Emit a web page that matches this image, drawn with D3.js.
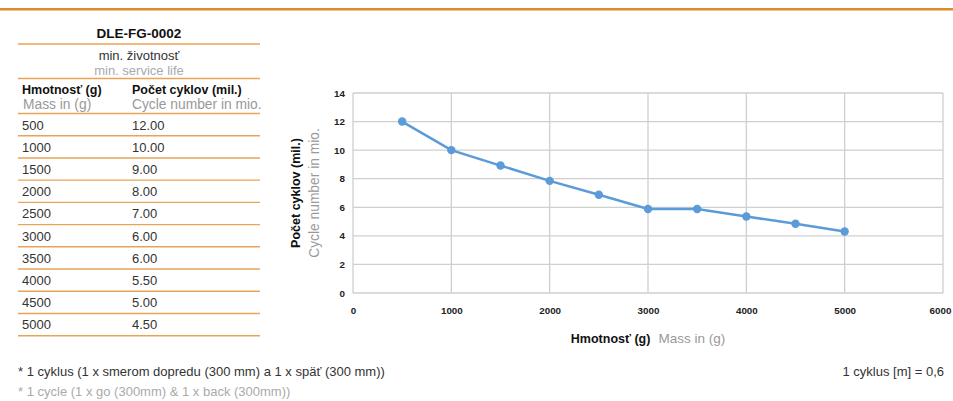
<!DOCTYPE html>
<html>
<head>
<meta charset="utf-8">
<script src="https://cdn.jsdelivr.net/npm/d3@7"></script>
<style>
  body { margin: 0; background: #fff; }
  svg { display: block; font-family: "Liberation Sans", Arial, sans-serif; }
  .axis path, .axis line { display: none; }
  .axis text { font-size: 9.8px; font-weight: bold; fill: #222; font-family: "Liberation Sans", Arial, sans-serif; }
</style>
</head>
<body>
<div id="chart"></div>
<script>
// table data (as printed)
var masses = [500, 1000, 1500, 2000, 2500, 3000, 3500, 4000, 4500, 5000];
var cycleLabels = ['12.00', '10.00', '9.00', '8.00', '7.00', '6.00', '6.00', '5.50', '5.00', '4.50'];

// values as plotted in the chart
var plotted = [12, 10, 8.92, 7.85, 6.88, 5.88, 5.88, 5.35, 4.85, 4.3];

var xTicks = [0, 1000, 2000, 3000, 4000, 5000, 6000];
var yTicks = [0, 2, 4, 6, 8, 10, 12, 14];

var svgWidth = 953;
var svgHeight = 401;

var orange = '#e8a356';
var blue = '#5b9bd7';

var svg = d3.select('#chart')
    .append('svg')
    .attr('width', svgWidth)
    .attr('height', svgHeight);

// orange rule along the top
svg.append('rect')
    .attr('x', 0).attr('y', 8)
    .attr('width', svgWidth).attr('height', 2.5)
    .attr('fill', '#de8a2c');

// ---- table on the left ----
var tLeft = 18, tRight = 260, col2 = 132;
var table = svg.append('g');

function hline(y) {
    table.append('line')
        .attr('x1', tLeft).attr('x2', tRight)
        .attr('y1', y).attr('y2', y)
        .attr('stroke', orange)
        .attr('stroke-width', 1.4);
}

table.append('text')
    .attr('x', (tLeft + tRight) / 2).attr('y', 38)
    .attr('text-anchor', 'middle')
    .attr('font-size', 13.5).attr('font-weight', 'bold').attr('fill', '#111')
    .text('DLE-FG-0002');
hline(44);

table.append('text')
    .attr('x', (tLeft + tRight) / 2).attr('y', 59.5)
    .attr('text-anchor', 'middle')
    .attr('font-size', 13).attr('fill', '#333')
    .text('min. životnosť');
table.append('text')
    .attr('x', (tLeft + tRight) / 2).attr('y', 75)
    .attr('text-anchor', 'middle')
    .attr('font-size', 13).attr('fill', '#aaa')
    .text('min. service life');
hline(78.5);

table.append('text')
    .attr('x', 22).attr('y', 94)
    .attr('font-size', 12.5).attr('font-weight', 'bold').attr('fill', '#111')
    .text('Hmotnosť (g)');
table.append('text')
    .attr('x', 23).attr('y', 108.5)
    .attr('font-size', 13.8).attr('fill', '#999')
    .text('Mass in (g)');
table.append('text')
    .attr('x', col2).attr('y', 94)
    .attr('font-size', 12.5).attr('font-weight', 'bold').attr('fill', '#111')
    .text('Počet cyklov (mil.)');
table.append('text')
    .attr('x', col2).attr('y', 108.5)
    .attr('font-size', 13.8).attr('fill', '#999')
    .text('Cycle number in mio.');
hline(113.5);

// rows
var rowY = d3.scaleBand()
    .domain(masses)
    .range([113.5, 335.7]);

masses.forEach(function(m, i) {
    var y = rowY(m);
    table.append('text')
        .attr('x', 22).attr('y', y + 16)
        .attr('font-size', 13).attr('fill', '#333')
        .text(m);
    table.append('text')
        .attr('x', col2).attr('y', y + 16)
        .attr('font-size', 13).attr('fill', '#333')
        .text(cycleLabels[i]);
    hline(y + rowY.bandwidth());
});

// ---- line chart ----
var plot = { left: 353, right: 943, top: 93, bottom: 293 };

var x = d3.scaleLinear().domain([0, 6000]).range([plot.left, plot.right]);
var y = d3.scaleLinear().domain([0, 14]).range([plot.bottom, plot.top]);

var grid = svg.append('g');
grid.selectAll('line.v')
    .data(xTicks)
    .enter()
    .append('line')
    .attr('x1', d => x(d)).attr('x2', d => x(d))
    .attr('y1', plot.top).attr('y2', plot.bottom)
    .attr('stroke', '#cfcfcf').attr('stroke-width', 1.3);
grid.selectAll('line.h')
    .data(yTicks)
    .enter()
    .append('line')
    .attr('x1', plot.left).attr('x2', plot.right)
    .attr('y1', d => y(d)).attr('y2', d => y(d))
    .attr('stroke', '#cfcfcf').attr('stroke-width', 1.3);

// axes (labels only)
var xAxisG = svg.append('g')
    .attr('class', 'axis')
    .attr('transform', `translate(0, ${plot.bottom + 10})`)
    .call(d3.axisBottom(x).tickValues(xTicks).tickFormat(d3.format('d')).tickSize(0).tickPadding(4));

// keep the last label inside the page
xAxisG.selectAll('.tick text')
    .filter(d => d === 6000)
    .attr('dx', -3);

svg.append('g')
    .attr('class', 'axis')
    .attr('transform', `translate(${plot.left - 8}, 0)`)
    .call(d3.axisLeft(y).tickValues(yTicks).tickSize(0).tickPadding(0));

var pts = masses.map((m, i) => ({ m: m, v: plotted[i] }));

svg.append('path')
    .datum(pts)
    .attr('fill', 'none')
    .attr('stroke', blue)
    .attr('stroke-width', 2.5)
    .attr('d', d3.line().x(d => x(d.m)).y(d => y(d.v)));

svg.selectAll('circle.pt')
    .data(pts)
    .enter()
    .append('circle')
    .attr('cx', d => x(d.m))
    .attr('cy', d => y(d.v))
    .attr('r', 4.2)
    .attr('fill', blue);

// axis titles
var yMid = (plot.top + plot.bottom) / 2;
svg.append('text')
    .attr('transform', `translate(300, ${yMid}) rotate(-90)`)
    .attr('text-anchor', 'middle')
    .attr('font-size', 12.5).attr('font-weight', 'bold').attr('fill', '#111')
    .text('Počet cyklov (mil.)');
svg.append('text')
    .attr('transform', `translate(319, ${yMid}) rotate(-90)`)
    .attr('text-anchor', 'middle')
    .attr('font-size', 13.8).attr('fill', '#999')
    .text('Cycle number in mio.');

var xTitle = svg.append('text')
    .attr('x', (plot.left + plot.right) / 2).attr('y', 343)
    .attr('text-anchor', 'middle');
xTitle.append('tspan').attr('font-size', 12.5).attr('font-weight', 'bold').attr('fill', '#111').text('Hmotnosť (g)');
xTitle.append('tspan').attr('font-size', 13.5).attr('fill', '#999').attr('dx', 8).text('Mass in (g)');

// footnotes
svg.append('text')
    .attr('x', 18).attr('y', 376)
    .attr('font-size', 13).attr('fill', '#333')
    .text('* 1 cyklus (1 x smerom dopredu (300 mm) a 1 x späť (300 mm))');
svg.append('text')
    .attr('x', 18).attr('y', 396)
    .attr('font-size', 13).attr('fill', '#aaa')
    .text('* 1 cycle (1 x go (300mm) & 1 x back (300mm))');
svg.append('text')
    .attr('x', 944).attr('y', 376)
    .attr('text-anchor', 'end')
    .attr('font-size', 13).attr('fill', '#333')
    .text('1 cyklus [m] = 0,6');
</script>
</body>
</html>
